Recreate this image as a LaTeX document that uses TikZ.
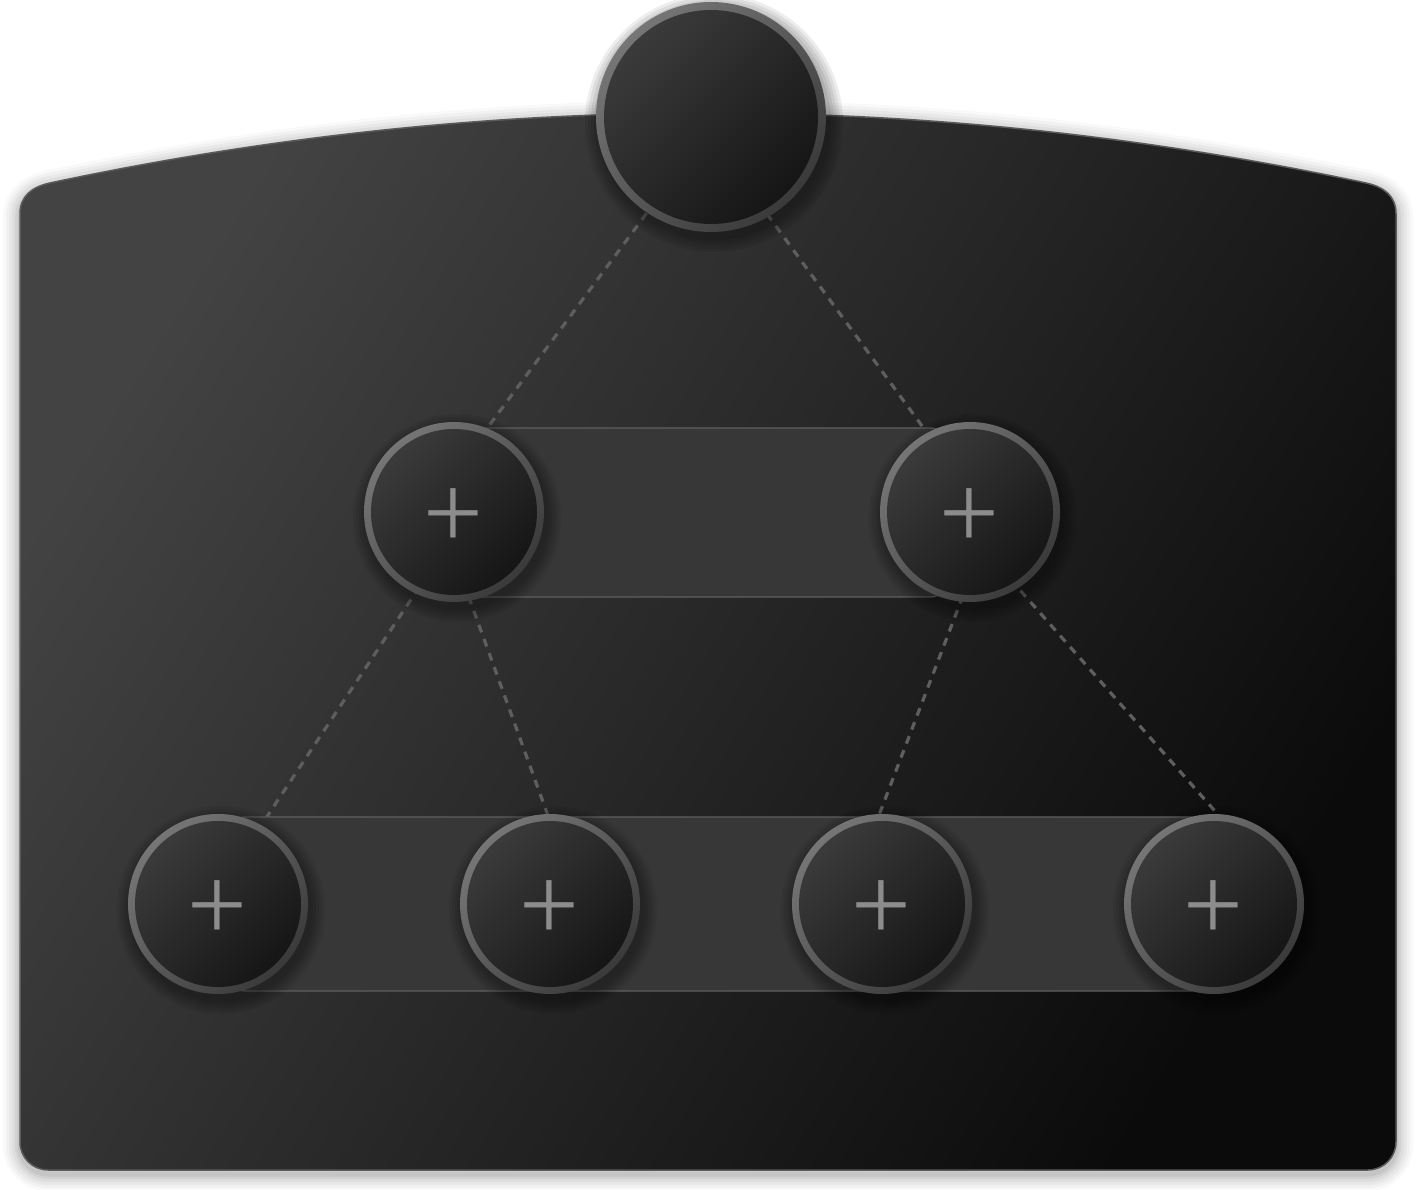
\documentclass[tikz,border=0pt]{standalone}
\usepackage{fontspec}
\newfontfamily\plusfont{Liberation Serif}
\usetikzlibrary{calc}
\definecolor{panA}{HTML}{434343}
\definecolor{panB}{HTML}{0B0B0B}
\definecolor{panEdge}{HTML}{5A5A5A}
\definecolor{ringA}{HTML}{767676}
\definecolor{ringB}{HTML}{3A3A3A}
\definecolor{inA}{HTML}{3C3C3C}
\definecolor{inB}{HTML}{141414}
\definecolor{bandFill}{HTML}{373737}
\definecolor{bandEdge}{HTML}{606060}
\definecolor{dashCol}{HTML}{5E5E5E}
\definecolor{plusCol}{HTML}{8C8C8C}
\tikzset{
  dashline/.style={draw=dashCol, line width=3.2pt, dash pattern=on 8pt off 7pt},
  bandbox/.style={rectangle, rounded corners=20pt, fill=bandFill, draw=bandEdge, line width=1.3pt, inner sep=0pt},
  knob/.style={circle, minimum size=180pt, inner sep=0pt, top color=ringA, bottom color=ringB, shading angle=45,
    path picture={\shade[top color=inA, bottom color=inB, shading angle=45] (path picture bounding box.center) circle (83pt);}},
  plustext/.style={inner sep=0pt, text=plusCol, font=\plusfont\fontsize{106}{106}\selectfont},
  bigknob/.style={circle, minimum size=230pt, inner sep=0pt, top color=ringA, bottom color=ringB, shading angle=45,
    path picture={\shade[top color=inA, bottom color=inB, shading angle=45] (path picture bounding box.center) circle (107pt);}},
}
\def\panelpath{(20,214) .. controls (20,196) and (32,187) .. (50,183) .. controls (488.7,89.7) and (927.3,89.7) .. (1366,183) .. controls (1384,187) and (1396,196) .. (1396,214) -- (1396,1142) .. controls (1396,1157.5) and (1383.5,1170) .. (1368,1170) -- (48,1170) .. controls (32.5,1170) and (20,1157.5) .. (20,1142) -- cycle}
\begin{document}
\begin{tikzpicture}[x=1pt,y=-1pt]
\useasboundingbox (0,0) rectangle (1416,1190);
\fill[white] (0,0) rectangle (1416,1190);
% panel shadow
\foreach \w/\o in {34/0.025,28/0.03,22/0.035,16/0.04,10/0.05,5/0.06}
  \draw[black, opacity=\o, line width=\w pt, line join=round] [shift={(0,4)}] \panelpath;
% panel
\shade[top color=panA, bottom color=panB, shading angle=58] \panelpath;
\draw[panEdge, line width=1.5pt] \panelpath;

% positions
\coordinate (p0) at (711,117);
\coordinate (p1) at (454,512);
\coordinate (p2) at (970,512);
\coordinate (p3) at (218,904);
\coordinate (p4) at (550,904);
\coordinate (p5) at (882,904);
\coordinate (p6) at (1214,904);

% connector end points
\coordinate (a1) at (718,117);
\coordinate (b1) at (425,512);
\coordinate (a2) at (696,117);
\coordinate (b2) at (985,512);
\coordinate (a3) at (469,512);
\coordinate (b3) at (209,904);
\coordinate (a4) at (438,512);
\coordinate (b4) at (580,904);
\coordinate (a5) at (995,512);
\coordinate (b5) at (845,904);
\coordinate (a6) at (951,512);
\coordinate (b6) at (1297,904);

\draw[dashline] (a1) -- (b1);
\draw[dashline] (a2) -- (b2);
\draw[dashline] (a3) -- (b3);
\draw[dashline] (a4) -- (b4);
\draw[dashline] (a5) -- (b5);
\draw[dashline] (a6) -- (b6);

% bands
\node[bandbox, minimum width=490pt, minimum height=169pt] (band2) at (705,512.5) {};
\node[bandbox, minimum width=985pt, minimum height=174pt] (band3) at (717.5,904) {};

% circle shadows
\foreach \c/\r in {p1/90,p2/90,p3/90,p4/90,p5/90,p6/90,p0/115}
  \foreach \d in {14,11,8,5,2}
    \fill[black, opacity=0.07] ($(\c)+(3,6)$) circle (\r+\d);

% circles
\node[bigknob] (top) at (p0) {};
\foreach \i in {1,...,6}{
  \node[knob] (n\i) at (p\i) {};
  \node[plustext] (t\i) at ($(p\i)+(-1,7)$) {+};
}
\end{tikzpicture}
\end{document}
